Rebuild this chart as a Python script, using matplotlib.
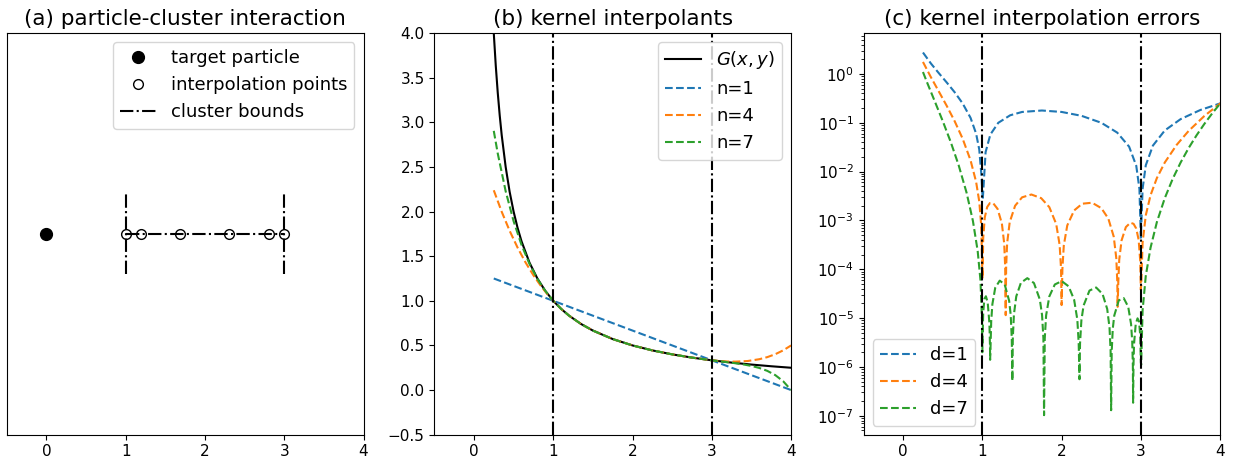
import matplotlib
matplotlib.use("Agg")
import matplotlib.pyplot as plt
from matplotlib.ticker import LogLocator, NullFormatter

# ---------------- panel (a): particle / cluster geometry ----------------
target_x = [0.0]
target_y = [0.0]
interp_x = [1.0, 1.191, 1.691, 2.309, 2.809, 3.0]
interp_y = [0.0, 0.0, 0.0, 0.0, 0.0, 0.0]
cluster_lo = 1.0
cluster_hi = 3.0
bound_half = 0.2

# ---------------- panel (b): kernel and interpolants ----------------
kernel_x = [0.25, 0.275, 0.3, 0.325, 0.35, 0.4, 0.45, 0.5, 0.55, 0.6, 0.7, 0.8, 0.9,
            1.0, 1.1, 1.2, 1.35, 1.5, 1.75, 2.0, 2.25, 2.5, 2.75, 3.0, 3.25, 3.5, 3.75, 4.0]
kernel_y = [4.0, 3.6364, 3.3333, 3.0769, 2.8571, 2.5, 2.2222, 2.0, 1.8182, 1.6667, 1.4286,
            1.25, 1.1111, 1.0, 0.9091, 0.8333, 0.7407, 0.6667, 0.5714, 0.5, 0.4444, 0.4,
            0.3636, 0.3333, 0.3077, 0.2857, 0.2667, 0.25]

n1_x = [0.25, 4.0]
n1_y = [1.25, 0.0]

n4_x = [0.25, 0.35, 0.45, 0.55, 0.65, 0.75, 0.85, 0.92, 1.0, 1.1, 1.2, 1.35, 1.5, 1.75,
        2.0, 2.25, 2.5, 2.75, 3.0, 3.1, 3.2, 3.3, 3.45, 3.6, 3.7, 3.8, 3.9, 4.0]
n4_y = [2.2383, 1.9977, 1.7846, 1.5964, 1.4309, 1.2859, 1.1594, 1.0808, 1.0, 0.9091,
        0.8333, 0.7407, 0.6667, 0.5714, 0.5, 0.4444, 0.4, 0.3636, 0.3333, 0.3251, 0.3199,
        0.3184, 0.3252, 0.3458, 0.3691, 0.4016, 0.4447, 0.5]

n7_x = [0.25, 0.3, 0.4, 0.5, 0.6, 0.7, 0.8, 0.9, 1.0, 1.1, 1.2, 1.35, 1.5, 1.75, 2.0,
        2.25, 2.5, 2.75, 3.0, 3.2, 3.3, 3.4, 3.5, 3.6, 3.7, 3.8, 3.9, 4.0]
n7_y = [2.9038, 2.6516, 2.2276, 1.8921, 1.6263, 1.4150, 1.2463, 1.1105, 1.0, 0.9091,
        0.8333, 0.7407, 0.6667, 0.5714, 0.5, 0.4444, 0.4, 0.3636, 0.3333, 0.3116, 0.3002,
        0.2870, 0.2703, 0.2475, 0.2150, 0.1677, 0.0990, 0.0]

# ---------------- panel (c): interpolation errors ----------------
d1_x = [0.25, 0.35, 0.45, 0.55, 0.65, 0.75, 0.85, 0.92, 0.96, 0.988, 1.004, 1.04, 1.1,
        1.2, 1.35, 1.5, 1.75, 2.0, 2.25, 2.5, 2.7, 2.85, 2.94, 2.98, 2.998, 3.02, 3.06,
        3.15, 3.3, 3.5, 3.75, 4.0]
d1_err = [2.75, 1.6405, 1.0389, 0.6682, 0.4218, 0.25, 0.12647, 0.06029, 0.02833, 0.008146,
          0.002651, 0.02513, 0.05758, 0.1, 0.14259, 0.16667, 0.17857, 0.16667, 0.13889, 0.1,
          0.06296, 0.03246, 0.013197, 0.00443, 0.000444, 0.004459, 0.013464, 0.034127,
          0.069697, 0.119048, 0.183333, 0.25]

d4_x = [0.25, 0.35, 0.45, 0.55, 0.65, 0.75, 0.85, 0.92, 0.96, 0.985, 0.998,
        1.00137, 1.009732, 1.029704, 1.060307, 1.093692, 1.133975, 1.190983, 1.24529,
        1.274626, 1.286749, 1.2935, 1.299091, 1.311645,
        1.343941, 1.412215, 1.5, 1.617317, 1.741181, 1.843566, 1.930244,
        1.973823, 1.991273, 1.9985, 2.008727, 2.026177,
        2.069756, 2.156434, 2.258819, 2.382683, 2.5, 2.587785, 2.656059,
        2.688355, 2.700909, 2.7052, 2.713251, 2.725374,
        2.75471, 2.809017, 2.866025, 2.906308, 2.939693, 2.970296, 2.990268, 2.997564,
        3.003, 3.02, 3.06, 3.12, 3.2, 3.3, 3.45, 3.6, 3.8, 4.0]
d4_err = [1.7617, 0.8594, 0.43765, 0.2218, 0.10758, 0.047433, 0.017089, 0.0061988,
          0.0024483, 7.864e-4, 9.65e-5,
          6.468e-5, 4.3476e-4, 1.15939e-3, 1.89087e-3, 2.26515e-3, 2.27294e-3, 1.72672e-3,
          8.6437e-4,
          3.3601e-4, 1.13155e-4, 1.15e-5, 1.14053e-4, 3.4409e-4,
          9.2136e-4, 2.00432e-3, 2.97619e-3, 3.40026e-3, 2.85971e-3, 1.87443e-3, 8.4792e-4,
          3.1511e-4, 1.04318e-4, 1.85e-5, 1.03412e-4, 3.0697e-4,
          7.9077e-4, 1.60248e-3, 2.20437e-3, 2.30802e-3, 1.78571e-3, 1.0938e-3, 4.662e-4,
          1.6788e-4, 5.4858e-5, 1.7e-5, 5.3663e-5, 1.5715e-4,
          3.9074e-4, 7.3211e-4, 8.9931e-4, 8.5241e-4, 6.8202e-4, 4.0193e-4, 1.46808e-4,
          3.818e-5,
          4.836e-5, 3.5113e-4, 1.27143e-3, 3.2807e-3, 7.3857e-3, 0.015403, 0.03536,
          0.068013, 0.13844, 0.25]

d7_x = [0.25, 0.3, 0.4, 0.5, 0.6, 0.7, 0.8, 0.88, 0.94, 0.975, 0.995, 0.99875,
        1.002436, 1.009732, 1.025072, 1.043695, 1.06642,
        1.087974, 1.09527, 1.0971, 1.102843, 1.110689,
        1.12538, 1.161329, 1.218169, 1.28066, 1.33738,
        1.356258, 1.369711, 1.3774, 1.383357, 1.39719,
        1.426424, 1.484962, 1.566116, 1.649793, 1.724363,
        1.752034, 1.768979, 1.7773, 1.785995, 1.803076,
        1.843566, 1.912844, 2.0, 2.087156, 2.156434,
        2.196924, 2.214005, 2.224, 2.231021, 2.247966,
        2.275637, 2.350207, 2.433884, 2.515038, 2.573576,
        2.60281, 2.616643, 2.6231, 2.630289, 2.643742,
        2.66262, 2.71934, 2.781831, 2.838671, 2.87462,
        2.889302, 2.897149, 2.9004, 2.904721, 2.912018,
        2.93358, 2.956305, 2.974928, 2.990268, 2.997564,
        3.002, 3.02, 3.06, 3.12, 3.2, 3.3, 3.4, 3.5, 3.6, 3.7, 3.8, 3.9, 4.0]
d7_err = [1.09625, 0.68172, 0.27237, 0.10792, 0.040418, 0.013543, 3.7016e-3, 9.7815e-4,
          2.3719e-4, 6.0232e-5, 8.737e-6, 2.0e-6,
          3.741e-6, 1.30847e-5, 2.48573e-5, 2.80553e-5, 2.09578e-5,
          7.8667e-6, 2.719e-6, 1.4e-6, 2.8e-6, 8.5921e-6,
          1.92744e-5, 4.1735e-5, 5.86082e-5, 4.89448e-5, 2.24578e-5,
          1.17741e-5, 3.9624e-6, 5.2e-7, 3.9782e-6, 1.19166e-5,
          2.77907e-5, 5.27882e-5, 6.58751e-5, 5.22603e-5, 2.39124e-5,
          1.15385e-5, 3.8449e-6, 1.03e-7, 3.8234e-6, 1.13468e-5,
          2.78512e-5, 4.88502e-5, 5.72541e-5, 4.47704e-5, 2.38104e-5,
          9.3126e-6, 3.0843e-6, 5.6e-7, 3.0486e-6, 8.9929e-6,
          1.81194e-5, 3.66857e-5, 4.23883e-5, 3.11678e-5, 1.54032e-5,
          6.3969e-6, 2.1032e-6, 1.3e-7, 2.0634e-6, 6.0402e-6,
          1.128e-5, 2.30503e-5, 2.56647e-5, 1.70742e-5, 7.5457e-6,
          3.3029e-6, 1.06586e-6, 1.85e-7, 1.02523e-6, 2.9391e-6,
          7.6186e-6, 9.9047e-6, 8.5651e-6, 4.4184e-6, 1.251e-6,
          1.1034e-6, 1.44748e-5, 7.2864e-5, 2.75887e-4, 9.254e-4, 2.87281e-3, 7.1325e-3,
          0.015418, 0.030263, 0.055274, 0.095426, 0.157404, 0.25]

xticks = [0, 1, 2, 3, 4]
b_yticks = [-0.5, 0.0, 0.5, 1.0, 1.5, 2.0, 2.5, 3.0, 3.5, 4.0]

TICK_FS = 11
LEG_FS = 13
TITLE_FS = 15.5

fig = plt.figure(figsize=(12.34, 4.67), dpi=100)
W, H = 1234.0, 467.0
top_px, bot_px = 33.0, 434.7
ax_w = 356.8
lefts = [6.7, 434.3, 863.5]
axes = [fig.add_axes([l / W, (H - bot_px) / H, ax_w / W, (bot_px - top_px) / H]) for l in lefts]
axA, axB, axC = axes
for ax in axes:
    ax.tick_params(labelsize=TICK_FS)

# ---- (a)
axA.plot(target_x, target_y, "o", color="k", markersize=8.5, linestyle="none",
         label="target particle")
axA.plot(interp_x, interp_y, "o", color="k", mfc="none", markersize=7, linestyle="none",
         label="interpolation points")
axA.plot([cluster_lo, cluster_lo], [-bound_half, bound_half], "k-.", label="cluster bounds")
axA.plot([cluster_hi, cluster_hi], [-bound_half, bound_half], "k-.")
axA.plot([cluster_lo, cluster_hi], [0, 0], "k-.")
axA.set_xlim(-0.5, 4)
axA.set_ylim(-1, 1)
axA.set_xticks(xticks)
axA.set_yticks([])
axA.legend(loc="upper right", fontsize=LEG_FS)
axA.set_title("(a) particle-cluster interaction", fontsize=TITLE_FS)

# ---- (b)
axB.plot(kernel_x, kernel_y, "k-", label="$G(x,y)$")
axB.plot(n1_x, n1_y, "--", color="C0", label="n=1")
axB.plot(n4_x, n4_y, "--", color="C1", label="n=4")
axB.plot(n7_x, n7_y, "--", color="C2", label="n=7")
axB.axvline(cluster_lo, color="k", linestyle="-.")
axB.axvline(cluster_hi, color="k", linestyle="-.")
axB.set_xlim(-0.5, 4)
axB.set_ylim(-0.5, 4)
axB.set_xticks(xticks)
axB.set_yticks(b_yticks)
axB.legend(loc="upper right", fontsize=LEG_FS)
axB.set_title("(b) kernel interpolants", fontsize=TITLE_FS)

# ---- (c)
axC.semilogy(d1_x, d1_err, "--", color="C0", label="d=1")
axC.semilogy(d4_x, d4_err, "--", color="C1", label="d=4")
axC.semilogy(d7_x, d7_err, "--", color="C2", label="d=7")
axC.axvline(cluster_lo, color="k", linestyle="-.")
axC.axvline(cluster_hi, color="k", linestyle="-.")
axC.set_xlim(-0.5, 4)
axC.set_ylim(4.1e-8, 6.9)
axC.set_xticks(xticks)
axC.yaxis.set_major_locator(LogLocator(base=10, numticks=30))
axC.yaxis.set_minor_locator(LogLocator(base=10, subs=tuple(range(2, 10)), numticks=30))
axC.yaxis.set_minor_formatter(NullFormatter())
axC.legend(loc="lower left", fontsize=LEG_FS)
axC.set_title("(c) kernel interpolation errors", fontsize=TITLE_FS)

fig.savefig("out.png", dpi=100)
